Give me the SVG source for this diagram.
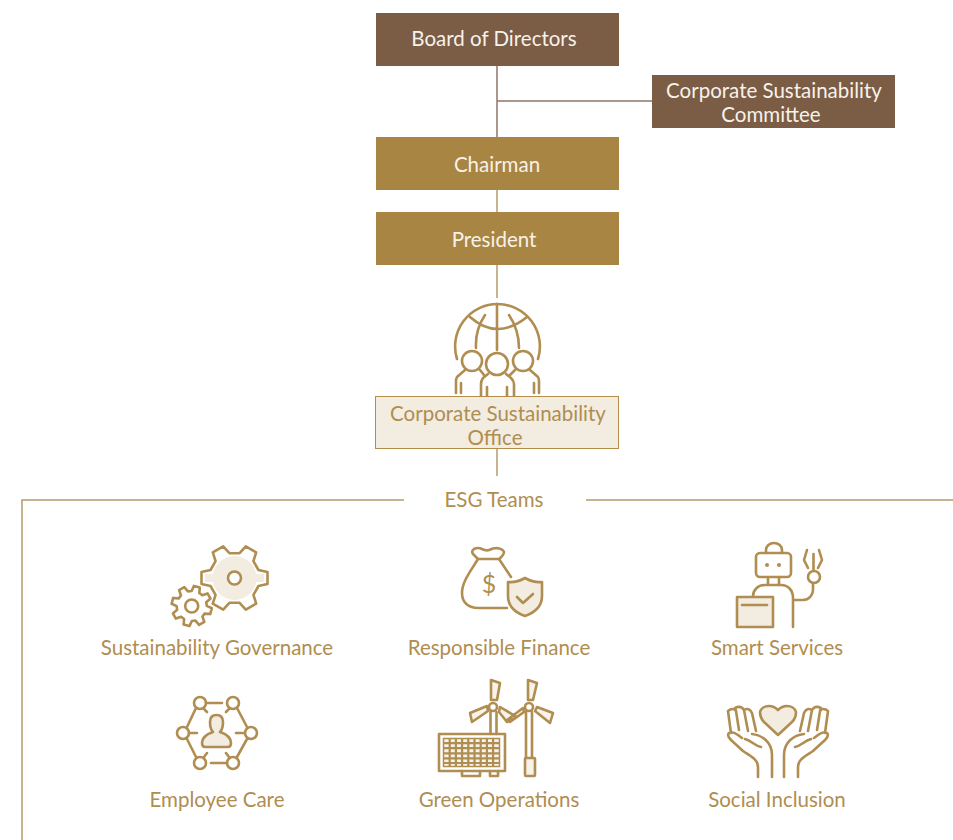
<svg xmlns="http://www.w3.org/2000/svg" width="953" height="840" viewBox="0 0 953 840">
<style>
text{font-family:"Lato","Noto Sans","Liberation Sans",sans-serif;font-size:20.500px;text-anchor:middle}
.w{fill:#f7f2ea}
.g{fill:#b08d50}
.brown{fill:#7b5c45}
.gold{fill:#a98543}
.i{fill:none;stroke:#b08d50;stroke-width:2.600;stroke-linecap:round;stroke-linejoin:round}
.p{fill:#f2ece1;stroke:#b08d50;stroke-width:2.600;stroke-linecap:round;stroke-linejoin:round}
.c1{fill:none;stroke:#8f7767;stroke-width:1.500}
.c2{fill:none;stroke:#b59a6c;stroke-width:1.500}
</style>
<rect width="953" height="840" fill="#ffffff"/>
<g id="connectors">
<path class="c1" d="M497 66V137M497 101H652"/>
<path class="c2" d="M497 190V212M497 265V298M497 449V476"/>
<path class="c2" d="M404 500H22V840M586 500H953"/>
</g>
<g id="board"><rect class="brown" x="376" y="13" width="243" height="53"/><text class="w" x="494" y="46">Board of Directors</text></g>
<g id="committee"><rect class="brown" x="652" y="75" width="243" height="53"/><text class="w" x="774" y="98">Corporate Sustainability</text><text class="w" x="771" y="122">Committee</text></g>
<g id="chairman"><rect class="gold" x="376" y="137" width="243" height="53"/><text class="w" x="497" y="172">Chairman</text></g>
<g id="president"><rect class="gold" x="376" y="212" width="243" height="53"/><text class="w" x="494" y="247">President</text></g>
<g id="office">
<g id="office-icon">
<path class="i" d="M457 359A42.400 42.400 0 1 1 538 359"/>
<path class="i" d="M470 317Q497 341 527 317M485 315Q475 330 476 348M509 315Q519 330 519 348M497 304V350"/>
<circle class="i" cx="472" cy="361" r="10" fill="#fff" style="fill:#fff"/><circle class="i" cx="523" cy="361" r="10" style="fill:#fff"/><circle class="i" cx="497" cy="364" r="11" style="fill:#fff"/>
<path class="i" d="M465 370L457 377Q456 379 456 381V393M461 383V393M480 370L484 375M530 370L538 377Q539 379 539 381V393M534 383V393M515 370L510 375"/>
<path class="i" d="M488 374L483 378Q481 381 481 384V396M487 387V396M506 374L511 378Q514 381 514 384V396M507 387V396"/>
</g>
<rect x="375.500" y="396.500" width="243" height="52" fill="#f2ece1" stroke="#b58d4a" stroke-width="1"/>
<text class="g" x="498" y="421">Corporate Sustainability</text><text class="g" x="495" y="445">Office</text>
</g>
<g id="esg-title"><text class="g" x="494" y="507">ESG Teams</text></g>
<g id="governance">
<circle cx="234.500" cy="578" r="22" fill="#f2ece1"/><path d="M205 574H264V582H205Z" fill="#f2ece1"/>
<path class="i" transform="translate(234.500 578)" d="M24 -8L33 -6V6L24 8L18.930 16.780L21.700 25.580L11.300 31.580L5.070 24.780H-5.070L-11.300 31.580L-21.700 25.580L-18.930 16.780L-24 8L-33 6V-6L-24 -8L-18.930 -16.780L-21.700 -25.580L-11.300 -31.580L-5.070 -24.780H5.070L11.300 -31.580L21.700 -25.580L18.930 -16.780Z"/>
<circle cx="234.500" cy="578" r="6.500" fill="#fff" stroke="#b08d50" stroke-width="2.600"/>
<path class="i" transform="translate(191.700 606) rotate(15)" d="M14.500 -4L20 -3V3L14.500 4L13.080 7.420L16.260 12.020L12.020 16.260L7.420 13.080L4 14.500L3 20H-3L-4 14.500L-7.420 13.080L-12.020 16.260L-16.260 12.020L-13.080 7.420L-14.500 4L-20 3V-3L-14.500 -4L-13.080 -7.420L-16.260 -12.020L-12.020 -16.260L-7.420 -13.080L-4 -14.500L-3 -20H3L4 -14.500L7.420 -13.080L12.020 -16.260L16.260 -12.020L13.080 -7.420Z"/>
<circle class="i" cx="191.700" cy="606" r="6.500"/>
<text class="g" x="217" y="655">Sustainability Governance</text>
</g>
<g id="finance">
<path class="i" d="M478 559L473 554Q471 551 474 549Q478 547 482 549Q486 551 489 550Q493 548 497 548Q503 549 504 552Q504 555 499 559H478ZM478 559C470 572 462 582 462 593C462 603 469 608 478 608H507M499 559L511 577"/>
<text class="g" x="489" y="593" style="font-size:25px">$</text>
<path class="p" d="M525 578Q516 583 508 582V596Q508 610 525 616Q542 610 542 596V582Q534 583 525 578Z"/>
<path class="i" d="M517 597L523 603L533 594"/>
<text class="g" x="499" y="655">Responsible Finance</text>
</g>
<g id="services">
<rect class="i" x="756" y="553" width="35" height="24" rx="4"/>
<path class="i" d="M766 553V550A8 7 0 0 1 782 550V553M768 577V585M779 577V585"/>
<circle cx="767" cy="565" r="2" fill="#b08d50"/><circle cx="779" cy="565" r="2" fill="#b08d50"/>
<path class="i" d="M753 597V596C753 590 758 585 765 585H781C788 585 793 590 793 598V627M793 600H803C809 600 813 595 813 590V583"/>
<circle class="i" cx="814" cy="577" r="6"/>
<path class="i" d="M813.500 554V571M807 550L804 560L808 568M819 550L822 560L818 568"/>
<rect class="p" x="737" y="597" width="36" height="30"/>
<path class="i" d="M742 605H767"/>
<text class="g" x="777" y="655">Smart Services</text>
</g>
<g id="care">
<circle class="i" cx="200" cy="703" r="6"/><circle class="i" cx="233" cy="703" r="6"/><circle class="i" cx="183" cy="733" r="6"/><circle class="i" cx="251" cy="733" r="6"/><circle class="i" cx="200" cy="763" r="6"/><circle class="i" cx="233" cy="763" r="6"/>
<path class="i" d="M206 703H222M196 708L187 727M237 708L247 727M189 733H197M245 733H236M187 739L196 757M247 739L237 757M227 763H211M204 709L207 712M229 709L226 712M204 757L207 753M229 757L226 753"/>
<path class="p" d="M210 722C210 717 212 715 216.500 715C221 715 223 717 223 722C223 727 222 730 220 732C226 734 231 737 231 743C231 746 230 747 228 747H205C203 747 202 746 202 743C202 737 207 734 213 732C211 730 210 727 210 722Z"/>
<text class="g" x="217" y="807">Employee Care</text>
</g>
<g id="operations">
<path class="p" d="M491 680L500 683L497 700H491ZM470 713L487 706L488 711L472 722ZM500 707L517 717L507 722L499 712ZM528 680L537 683L533 700H528ZM507 720L523 708L524 712L510 722ZM537 707L553 713L550 723L535 711Z" style="fill:#f7f2ea"/>
<circle class="i" cx="493" cy="707" r="4"/><circle class="i" cx="529" cy="707" r="4"/>
<path class="i" d="M490.500 712V734M496.500 712V734M526 712V758M532 712V758"/>
<rect class="p" x="525" y="758" width="10" height="18" rx="1" style="fill:#f7f2ea"/>
<rect class="i" x="439" y="734" width="66" height="37"/>
<rect x="443.500" y="738.500" width="56" height="28" fill="#f7f2ea" stroke="#b08d50" stroke-width="1.500"/>
<path d="M449.700 738V767M455.900 738V767M462.100 738V767M468.300 738V767M474.500 738V767M480.700 738V767M486.900 738V767M493.100 738V767M443 743.100H500M443 748.200H500M443 753.300H500M443 758.400H500M443 763H500" fill="none" stroke="#b08d50" stroke-width="2.200"/>
<path class="i" d="M462 771V776H480V771M490 771V776H498V771"/>
<text class="g" x="499" y="807">Green Operations</text>
</g>
<g id="inclusion">
<path class="p" d="M778 735L764 722C760 718 760 714 760 712C761 708 765 706 769 706C773 706 776 708 778 710C780 708 783 706 787 706C791 706 795 708 796 712C796 714 796 718 792 722Z"/>
<path class="i" d="M758 777V767C758 759 750 756 743 751L731 740C728 737 727 735 729 733C732 731 735 733 738 735L742 738M731 733L728 711Q733 707 736 711L739 730M736 711L735 708Q741 705 744 710L748 731M744 710Q749 707 752 713L756 731M772 777V755C772 742 762 735 752 734M761 747C755 746 752 741 745 739"/>
<path class="i" transform="translate(1556 0) scale(-1 1)" d="M758 777V767C758 759 750 756 743 751L731 740C728 737 727 735 729 733C732 731 735 733 738 735L742 738M731 733L728 711Q733 707 736 711L739 730M736 711L735 708Q741 705 744 710L748 731M744 710Q749 707 752 713L756 731M772 777V755C772 742 762 735 752 734M761 747C755 746 752 741 745 739"/>
<text class="g" x="777" y="807">Social Inclusion</text>
</g>
</svg>
